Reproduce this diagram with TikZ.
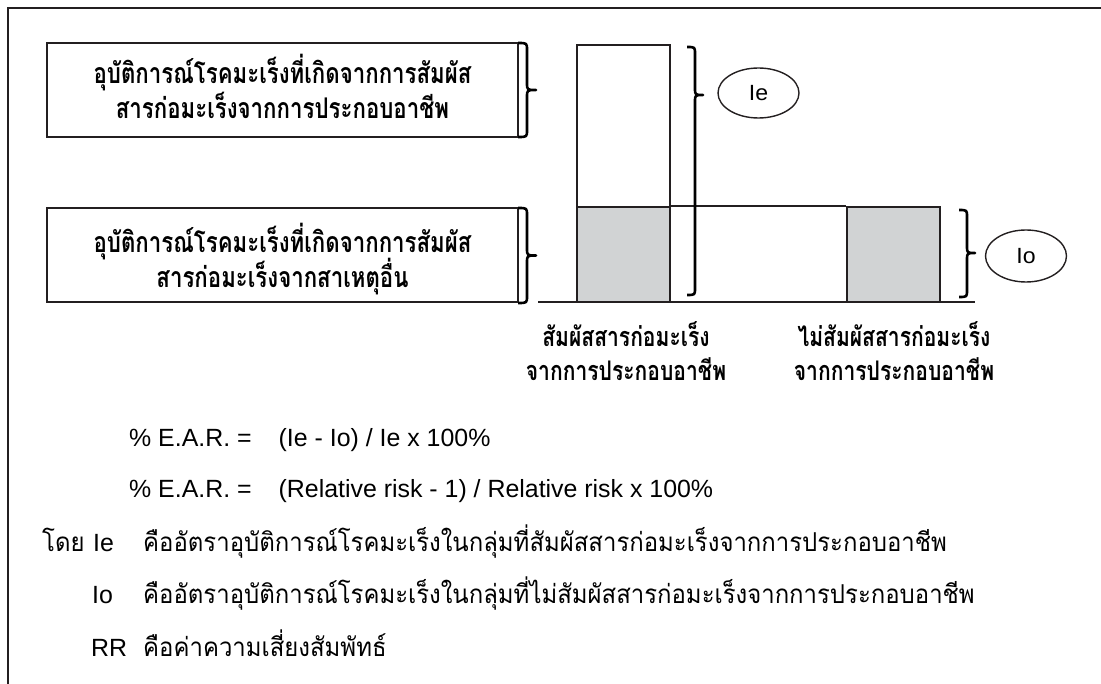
\documentclass[tikz,border=0pt]{standalone}
\usepackage{fontspec}
\usetikzlibrary{shapes.geometric}
\setmainfont{Liberation Sans}
\newfontfamily\thaib[Script=Thai,FakeStretch=0.78]{Loma}
\newfontfamily\thair[Script=Thai,FakeStretch=0.92]{Loma}
\newfontfamily\ovalsans[FakeStretch=1.05]{Liberation Sans}
\definecolor{ink}{HTML}{231F20}
\definecolor{barfill}{HTML}{D1D3D4}
\newcommand{\mybrace}[5]{% x0, top, bottom, tipx, tipy
  \draw[bracestyle] (#1,#2) .. controls ({(#1+#4)/2},#2) .. ({(#1+#4)/2},#2+7)
    -- ({(#1+#4)/2},#5-7) .. controls ({(#1+#4)/2},#5) .. (#4,#5)
    .. controls ({(#1+#4)/2},#5) .. ({(#1+#4)/2},#5+7)
    -- ({(#1+#4)/2},#3-7) .. controls ({(#1+#4)/2},#3) .. (#1,#3);}
\tikzset{
  bracestyle/.style={draw=black, line width=2.6pt, line join=round},
  textbox/.style={draw=ink, line width=2pt, minimum width=471pt, minimum height=94pt, inner sep=0pt},
  boxtext/.style={anchor=base, inner sep=0pt, font=\thaib\bfseries\fontsize{28.5}{30}\selectfont},
  barbox/.style={draw=ink, line width=1.9pt, inner sep=0pt},
  oval/.style={ellipse, draw=ink, line width=1.4pt, inner sep=0pt, font=\ovalsans\fontsize{22}{24}\selectfont},
  collabel/.style={anchor=base, inner sep=0pt, font=\thaib\bfseries\fontsize{27}{30}\selectfont},
  formula/.style={anchor=base west, inner sep=0pt, font=\fontsize{24.9}{28}\selectfont},
  thline/.style={anchor=base west, inner sep=0pt, font=\thair\fontsize{26}{28}\selectfont},
  latline/.style={anchor=base west, inner sep=0pt, font=\fontsize{24.9}{28}\selectfont},
}
\begin{document}
\begin{tikzpicture}[x=1pt,y=-1pt]
\useasboundingbox (0,0) rectangle (1101,684);
% frame
\draw[ink, line width=2pt] (8,700) -- (8,8) -- (1110,8);
% text boxes
\node[textbox] (boxE) at (282.5,90) {};
\node[boxtext] (boxE1) at (282.5,83.5) {อุบัติการณ์โรคมะเร็งที่เกิดจากการสัมผัส};
\node[boxtext] (boxE2) at (282.5,118.5) {สารก่อมะเร็งจากการประกอบอาชีพ};
\node[textbox] (boxO) at (282.5,255.5) {};
\node[boxtext] (boxO1) at (282.5,253) {อุบัติการณ์โรคมะเร็งที่เกิดจากการสัมผัส};
\node[boxtext] (boxO2) at (282.5,288) {สารก่อมะเร็งจากสาเหตุอื่น};
\mybrace{518}{43}{137}{536}{90}
\mybrace{518}{208}{303}{536}{255.5}
% bars
\node[barbox, minimum width=93pt, minimum height=162pt] (tallE) at (623.5,126) {};
\node[barbox, fill=barfill, minimum width=93pt, minimum height=95pt] (grayE) at (623.5,254.5) {};
\node[barbox, fill=barfill, minimum width=93pt, minimum height=95pt] (grayO) at (893.5,254.5) {};
\draw[ink, line width=1.6pt] (grayE.north east) -- (grayO.north west);
\coordinate (axL) at (538,302);
\coordinate (axR) at (975,302);
\draw[ink, line width=2.4pt] (axL) -- (axR);
% braces and ovals
\mybrace{687}{47}{295}{703}{95}
\node[oval, minimum width=81pt, minimum height=50pt] (Ie) at (758.5,93) {Ie};
\mybrace{959}{210}{297}{975}{253}
\node[oval, minimum width=81pt, minimum height=52pt] (Io) at (1026,256) {Io};
% column labels
\node[collabel] (labE1) at (626,347) {สัมผัสสารก่อมะเร็ง};
\node[collabel] (labE2) at (626,381) {จากการประกอบอาชีพ};
\node[collabel] (labO1) at (894,347) {ไม่สัมผัสสารก่อมะเร็ง};
\node[collabel] (labO2) at (894,381) {จากการประกอบอาชีพ};
% formulas
\node[formula] (f1) at (129,446.5) {\%\ E.A.R.\ =\hspace{27pt}(Ie - Io) / Ie x 100\%};
\node[formula] (f2) at (129,497.5) {\%\ E.A.R.\ =\hspace{27pt}(Relative risk - 1) / Relative risk x 100\%};
% definitions
\node[thline] (doy) at (42,551.5) {โดย};
\node[latline] (defIe) at (93,551.5) {Ie};
\node[thline] (txtIe) at (143,551.5) {คืออัตราอุบัติการณ์โรคมะเร็งในกลุ่มที่สัมผัสสารก่อมะเร็งจากการประกอบอาชีพ};
\node[latline] (defIo) at (92,603.5) {Io};
\node[thline] (txtIo) at (143,603.5) {คืออัตราอุบัติการณ์โรคมะเร็งในกลุ่มที่ไม่สัมผัสสารก่อมะเร็งจากการประกอบอาชีพ};
\node[latline] (defRR) at (91,656.5) {RR};
\node[thline] (txtRR) at (143,656.5) {คือค่าความเสี่ยงสัมพัทธ์};
\end{tikzpicture}
\end{document}
